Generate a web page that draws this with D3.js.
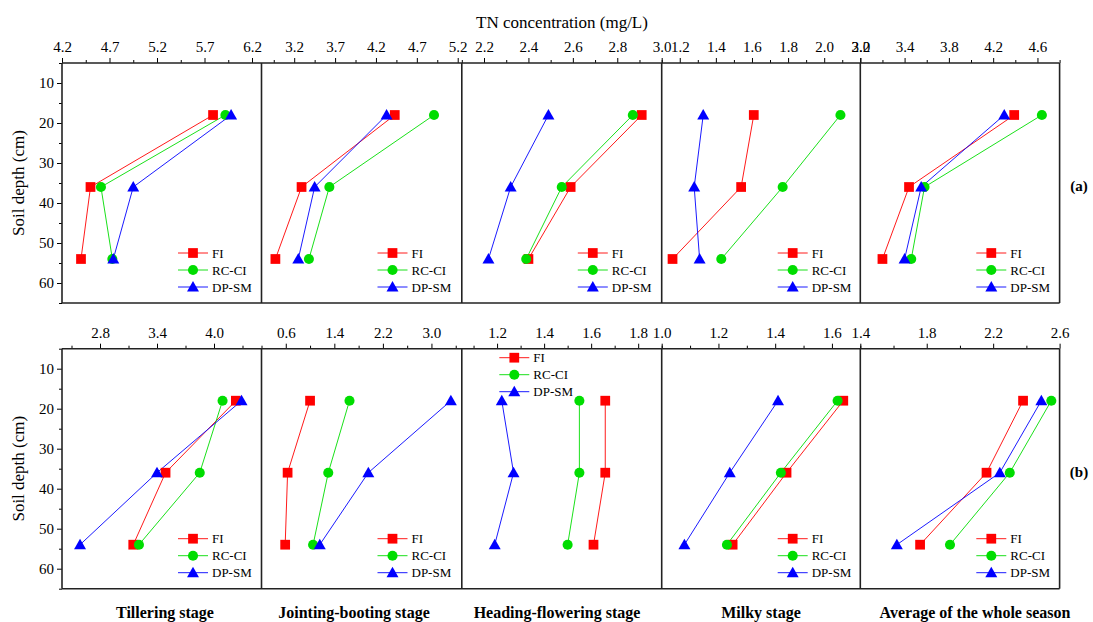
<!DOCTYPE html>
<html>
<head>
<meta charset="utf-8">
<script src="https://cdn.jsdelivr.net/npm/d3@7"></script>
<style>
  body { margin: 0; background: #fff; }
  svg { display: block; font-family: "Liberation Serif", "Times New Roman", serif; }
</style>
</head>
<body>
<div id="viz"></div>
<script>
// soil depths of the three sampling layers (cm)
const depths = [18, 36, 54];
const stages = ['Tillering stage', 'Jointing-booting stage', 'Heading-flowering stage', 'Milky stage', 'Average of the whole season'];
const series = ['FI', 'RC-CI', 'DP-SM'];
const colors = ['#ff0000', '#00dd00', '#0000ff'];

// (a) TN per stage, values at 18 / 36 / 54 cm
const aFI = [[5.79, 4.50, 4.40], [4.43, 3.29, 2.97], [2.91, 2.59, 2.40], [1.61, 1.54, 1.16], [4.39, 3.44, 3.20]];
const aRC = [[5.92, 4.61, 4.73], [4.91, 3.63, 3.38], [2.87, 2.55, 2.39], [2.09, 1.77, 1.43], [4.64, 3.58, 3.46]];
const aDP = [[5.98, 4.95, 4.74], [4.33, 3.45, 3.25], [2.49, 2.32, 2.22], [1.33, 1.28, 1.31], [4.30, 3.55, 3.40]];
// (b)
const bFI = [[4.23, 3.49, 3.15], [1.00, 0.63, 0.59], [1.66, 1.66, 1.61], [1.64, 1.44, 1.25], [2.38, 2.16, 1.76]];
const bRC = [[4.09, 3.85, 3.21], [1.65, 1.30, 1.05], [1.55, 1.55, 1.50], [1.62, 1.42, 1.23], [2.55, 2.30, 1.94]];
const bDP = [[4.29, 3.40, 2.59], [3.32, 1.96, 1.16], [1.22, 1.27, 1.19], [1.41, 1.24, 1.08], [2.49, 2.24, 1.62]];

const aDomains = [[4.2, 6.3], [2.8, 5.25], [2.1, 3.0], [1.1, 2.2], [3.0, 4.8]];
const aTicks = [[4.2, 4.7, 5.2, 5.7, 6.2], [3.2, 3.7, 4.2, 4.7, 5.2], [2.2, 2.4, 2.6, 2.8, 3.0], [1.2, 1.4, 1.6, 1.8, 2.0, 2.2], [3.0, 3.4, 3.8, 4.2, 4.6]];
const bDomains = [[2.4, 4.5], [0.2, 3.5], [1.05, 1.9], [1.0, 1.7], [1.4, 2.6]];
const bTicks = [[2.8, 3.4, 4.0], [0.6, 1.4, 2.2, 3.0], [1.2, 1.4, 1.6, 1.8], [1.0, 1.2, 1.4, 1.6], [1.4, 1.8, 2.2, 2.6]];

const depthTicks = [10, 20, 30, 40, 50, 60];
const depthMinor = [5, 15, 25, 35, 45, 55, 65];

const width = 1093, height = 622;
const edges = [62, 261.5, 461.8, 661.7, 860.3, 1059.6];
const rowH = 240;

const rows = [
  { top: 63, data: [aFI, aRC, aDP], domains: aDomains, ticks: aTicks, tag: '(a)' },
  { top: 348.7, data: [bFI, bRC, bDP], domains: bDomains, ticks: bTicks, tag: '(b)' }
];

const svg = d3.select('#viz').append('svg')
  .attr('width', width)
  .attr('height', height);

const symbols = [d3.symbolSquare, d3.symbolCircle, d3.symbolTriangle];
const symSize = [95, 80, 62];
const ink = '#222';

function legend(g, x0, y0) {
  series.forEach((name, i) => {
    const y = y0 + i * 17;
    g.append('line')
      .attr('x1', x0).attr('x2', x0 + 30)
      .attr('y1', y).attr('y2', y)
      .attr('stroke', colors[i]).attr('stroke-width', 0.9);
    g.append('path')
      .attr('d', d3.symbol(symbols[i], symSize[i])())
      .attr('transform', `translate(${x0 + 15},${y + (i === 2 ? 1 : 0)})`)
      .attr('fill', colors[i]);
    g.append('text')
      .attr('x', x0 + 34).attr('y', y)
      .attr('dy', '0.35em')
      .attr('font-size', 13)
      .text(name);
  });
}

rows.forEach((row, r) => {
  const y = d3.scaleLinear().domain([5, 65]).range([row.top, row.top + rowH]);

  // left axis
  svg.append('g')
    .attr('transform', `translate(${edges[0]},0)`)
    .call(d3.axisLeft(y).tickValues(depthMinor).tickSize(3).tickFormat(''))
    .call(g => g.select('.domain').remove());
  svg.append('g')
    .attr('transform', `translate(${edges[0]},0)`)
    .call(d3.axisLeft(y).tickValues(depthTicks).tickSize(5).tickPadding(3))
    .call(g => g.select('.domain').remove())
    .call(g => g.selectAll('text').attr('font-size', 15).attr('font-family', 'Liberation Serif'));

  svg.append('text')
    .attr('transform', `translate(24,${row.top + rowH / 2}) rotate(-90)`)
    .attr('text-anchor', 'middle')
    .attr('font-size', 17)
    .text('Soil depth (cm)');

  row.domains.forEach((dom, p) => {
    const x = d3.scaleLinear().domain(dom).range([edges[p], edges[p + 1]]);
    const t = row.ticks[p];
    const step = (t[1] - t[0]) / 2;
    const minor = d3.range(t[0] - 2 * step, dom[1] + 1e-9, step)
      .filter(v => v >= dom[0] - 1e-9 && !t.some(m => Math.abs(m - v) < 1e-9));

    svg.append('g')
      .attr('transform', `translate(0,${row.top})`)
      .call(d3.axisTop(x).tickValues(minor).tickSize(3).tickFormat(''))
      .call(g => g.select('.domain').remove());
    svg.append('g')
      .attr('transform', `translate(0,${row.top})`)
      .call(d3.axisTop(x).tickValues(t).tickSize(5).tickPadding(6).tickFormat(d3.format('.1f')))
      .call(g => g.select('.domain').remove())
      .call(g => g.selectAll('text').attr('font-size', 15).attr('font-family', 'Liberation Serif'));

    const line = d3.line().x(v => x(v)).y((v, i) => y(depths[i]));
    row.data.forEach((s, k) => {
      svg.append('path')
        .attr('d', line(s[p]))
        .attr('fill', 'none')
        .attr('stroke', colors[k])
        .attr('stroke-width', 0.9);
    });
    row.data.forEach((s, k) => {
      svg.selectAll(null)
        .data(s[p])
        .join('path')
        .attr('d', d3.symbol(symbols[k], symSize[k]))
        .attr('transform', (v, i) => `translate(${x(v)},${y(depths[i]) + (k === 2 ? 1 : 0)})`)
        .attr('fill', colors[k]);
    });

    const lg = svg.append('g');
    if (r === 1 && p === 2) legend(lg, edges[p] + 37.5, row.top + 9);
    else legend(lg, edges[p] + 116, row.top + 190);
  });

  // frame
  svg.append('line')
    .attr('x1', edges[0]).attr('x2', edges[5])
    .attr('y1', row.top).attr('y2', row.top)
    .attr('stroke', ink).attr('stroke-width', 1.6);
  svg.append('line')
    .attr('x1', edges[0]).attr('x2', edges[5])
    .attr('y1', row.top + rowH).attr('y2', row.top + rowH)
    .attr('stroke', ink).attr('stroke-width', 1.6);
  edges.forEach(e => {
    svg.append('line')
      .attr('x1', e).attr('x2', e)
      .attr('y1', row.top).attr('y2', row.top + rowH)
      .attr('stroke', ink).attr('stroke-width', 1.6);
  });

  svg.append('text')
    .attr('x', 1079).attr('y', row.top + rowH / 2 + 8)
    .attr('text-anchor', 'middle')
    .attr('font-size', 15).attr('font-weight', 'bold')
    .text(row.tag);
});

svg.append('text')
  .attr('x', 562).attr('y', 28)
  .attr('text-anchor', 'middle')
  .attr('font-size', 17)
  .text('TN concentration (mg/L)');

const labelX = [165, 354, 557, 761, 975];
stages.forEach((s, i) => {
  svg.append('text')
    .attr('x', labelX[i]).attr('y', 618)
    .attr('text-anchor', 'middle')
    .attr('font-size', 16).attr('font-weight', 'bold')
    .text(s);
});
</script>
</body>
</html>
